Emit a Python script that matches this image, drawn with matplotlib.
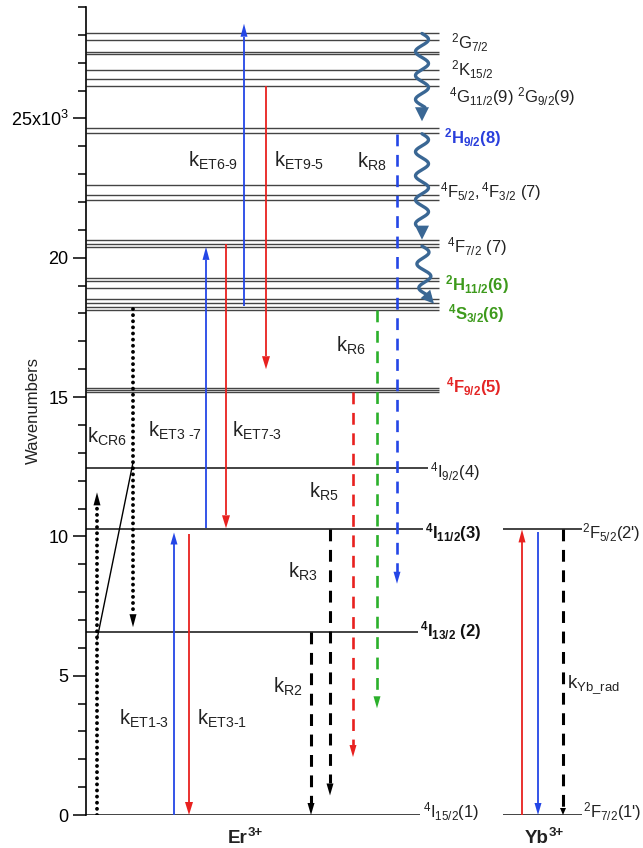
import numpy as np
import matplotlib
matplotlib.use("Agg")
import matplotlib.pyplot as plt
from matplotlib.patches import Polygon

plt.rcParams["font.family"] = ["Liberation Sans", "DejaVu Sans"]
plt.rcParams["mathtext.fontset"] = "custom"
plt.rcParams["mathtext.rm"] = "Liberation Sans"
plt.rcParams["mathtext.it"] = "Liberation Sans:italic"
plt.rcParams["mathtext.bf"] = "Liberation Sans:bold"
plt.rcParams["mathtext.sf"] = "Liberation Sans"
plt.rcParams["mathtext.default"] = "regular"
plt.rcParams["lines.scale_dashes"] = False

# --- energy levels (10^3 cm^-1) ---
er_band_levels = [28.07, 27.80, 27.38, 27.31, 26.74, 26.42, 26.16, 24.66, 24.47,
                  22.62, 22.27, 22.09, 20.63, 20.51, 20.39, 19.26, 19.17, 18.93,
                  18.52, 18.38, 18.25, 18.14, 15.33, 15.25, 15.17]
er_low_levels = [12.44, 10.25, 6.56, 0.0]
yb_levels = [10.25, 0.0]

# --- transitions: start / end energies ---
trans_names = ["CR6_up", "CR6_down", "ET1-3", "ET3-1", "ET3-7", "ET7-3", "ET6-9", "ET9-5",
               "R2", "R3", "R5", "R6", "R8", "Yb_abs", "Yb_em", "Yb_rad"]
trans_from = [0.0, 18.17, 0.0, 10.10, 10.29, 20.50, 18.28, 26.16,
              6.56, 10.25, 15.17, 18.14, 24.45, 0.0, 10.14, 10.25]
trans_to = [11.58, 6.74, 10.14, 0.0, 20.39, 10.29, 28.40, 16.0,
            0.0, 0.70, 2.08, 3.83, 8.30, 10.25, 0.0, 0.0]

# non-radiative cascade (wavy arrows)
wavy_from = [28.05, 24.45, 20.42]
wavy_to = [24.90, 20.65, 18.35]

# cross-relaxation connector
cr_link = [6.30, 12.65]

# --- labels ---
HY = "\u2010"
level_labels = [r"${}^{2}G_{7/2}$", r"${}^{2}K_{15/2}$",
                r"${}^{4}G_{11/2}(9)\ {}^{2}G_{9/2}(9)$",
                r"$\mathbf{{}^{2}H_{9/2}(8)}$", r"${}^{4}F_{5/2},{}^{4}F_{3/2}\ (7)$",
                r"${}^{4}F_{7/2}\ (7)$", r"$\mathbf{{}^{2}H_{11/2}(6)}$",
                r"$\mathbf{{}^{4}S_{3/2}(6)}$", r"$\mathbf{{}^{4}F_{9/2}(5)}$",
                r"${}^{4}I_{9/2}(4)$", r"$\mathbf{{}^{4}I_{11/2}(3)}$",
                r"${}^{2}F_{5/2}$(2')", r"$\mathbf{{}^{4}I_{13/2}\ (2)}$",
                r"${}^{4}I_{15/2}(1)$", r"${}^{2}F_{7/2}$(1')"]
level_label_y = [27.49, 26.53, 25.56, 24.12, 22.18, 20.21, 18.84, 17.80, 15.15,
                 12.13, 9.94, 9.94, 6.42, -0.10, -0.10]

rate_labels = ["$k_{ET6" + HY + "9}$", "$k_{ET9" + HY + "5}$", r"$k_{R8}$", r"$k_{R6}$",
               r"$k_{ET3\ " + HY + "7}$", "$k_{ET7" + HY + "3}$", r"$k_{CR6}$", r"$k_{R5}$",
               r"$k_{R3}$", r"$k_{R2}$", "$k_{ET1" + HY + "3}$", "$k_{ET3" + HY + "1}$",
               r"$k_{Yb\_rad}$"]
rate_label_y = [23.26, 23.26, 23.22, 16.62, 13.57, 13.57, 13.35, 11.40, 8.50, 4.38,
                3.23, 3.23, 4.56]

ion_names = ["Er", "Yb"]
ion_charge = "3+"
yticks = [0, 5, 10, 15, 20, 25]
ytick_labels = ["0", "5", "10", "15", "20", r"25x10$^{3}$"]

# --- layout (pixel x positions, styles) ---
W, H = 643, 848
X0, Y0PX, YTOPPX = 86, 815, 7
YMAX = 29.0
PXK = (Y0PX - YTOPPX) / YMAX

BLUE, RED, GREEN = "#2446e6", "#e8211f", "#2bb02b"
LBLUE, LGREEN, LRED = "#2a3fdc", "#3d9a1c", "#e42525"
WAVE = "#3a6794"
LEVEL = "#444444"

trans_x = [97, 133, 174, 189, 206, 226, 244, 266, 311, 330, 353, 377, 397, 522, 538, 563]
trans_color = ["black", "black", BLUE, RED, BLUE, RED, BLUE, RED,
               "black", "black", RED, GREEN, BLUE, RED, BLUE, "black"]
trans_style = ["dot", "dot", "solid", "solid", "solid", "solid", "solid", "solid",
               "dash", "dash", "dash", "dash", "dash", "solid", "solid", "dash"]
head_len = [13, 13, 12, 13, 13, 13, 13, 13, 12, 12, 12, 12, 12, 13, 12, 7]
head_w = [7, 7, 7, 8, 7, 8, 7, 8, 7, 7, 7, 7, 7, 7, 7, 6]

level_label_x = [451, 451, 449, 444, 440, 447, 445, 448, 446, 430, 425, 582, 420, 423, 583]
level_label_c = ["#222", "#222", "#222", LBLUE, "#222", "#222", LGREEN, LGREEN, LRED,
                 "#222", "#111", "#222", "#111", "#222", "#222"]
rate_label_x = [188, 274, 357, 336, 148, 232, 87, 309, 288, 273, 119, 197, 567]
ion_x = [228, 525]

fig = plt.figure(figsize=(W / 100, H / 100), dpi=100)
ax = fig.add_axes([X0 / W, (H - Y0PX) / H, (W - X0) / W, (Y0PX - YTOPPX) / H])
ax.set_xlim(X0, W)
ax.set_ylim(0, YMAX)
for s in ["top", "right", "bottom"]:
    ax.spines[s].set_visible(False)
ax.spines["left"].set_linewidth(1.2)
ax.set_xticks([])
ax.set_yticks(yticks)
ax.set_yticklabels(ytick_labels, fontsize=13)
ax.set_yticks(np.arange(0, 30, 1), minor=True)
ax.tick_params(axis="y", which="major", length=9.5, width=1.1, pad=3, direction="out")
ax.tick_params(axis="y", which="minor", length=5.8, width=1.1, direction="out")
fig.text(33 / W, (H - 411) / H, "Wavenumbers", rotation=90, fontsize=12,
         ha="center", va="center", color="#222")


def head(xt, yt, ux, uy, length, width, color):
    # tip (xt px, yt energy), direction (ux, uy) in pixels (uy up)
    n = np.hypot(ux, uy)
    ux, uy = ux / n, uy / n
    bx, by = xt - ux * length, yt * PXK - uy * length
    px, py = -uy, ux
    pts = [(bx + px * width / 2, by + py * width / 2),
           (bx - px * width / 2, by - py * width / 2),
           (xt, yt * PXK)]
    pts = [(a, b / PXK) for a, b in pts]
    ax.add_patch(Polygon(pts, closed=True, facecolor=color, edgecolor="none",
                         zorder=4, clip_on=False))


# levels
for e in er_band_levels:
    ax.plot([X0, 439], [e, e], color=LEVEL, lw=1.0, solid_capstyle="butt")
for e, xe in zip(er_low_levels, [428, 423, 418, 420]):
    ax.plot([X0, xe], [e, e], color="#222", lw=1.2, solid_capstyle="butt")
for e in yb_levels:
    ax.plot([503, 582], [e, e], color="#222", lw=1.2, solid_capstyle="butt")

# straight transitions
for x, y0, y1, c, st, hl, hw in zip(trans_x, trans_from, trans_to, trans_color,
                                     trans_style, head_len, head_w):
    d = 1 if y1 > y0 else -1
    ybase = y1 - d * hl / PXK
    if st == "solid":
        ax.plot([x, x], [y0, ybase], color=c, lw=1.3, solid_capstyle="butt", zorder=3)
    elif st == "dash":
        lw = 2.2 if c == "black" else 1.9
        ax.plot([x, x], [y0, ybase], color=c, lw=lw, linestyle=(0, (8.5, 6.2)),
                dash_capstyle="butt", zorder=3)
    else:
        ax.plot([x, x], [y0, ybase], color=c, lw=2.8, linestyle=(0, (0.01, 4.4)),
                dash_capstyle="round", zorder=3)
    head(x, y1, 0, d, hl, hw, c)

# cross relaxation connector line
ax.plot([trans_x[0], trans_x[1]], cr_link, color="black", lw=1.0, zorder=3)

# wavy cascade arrows
xc, amp, per = 422, 6.5, 24.0
for i, (ya, yb) in enumerate(zip(wavy_from, wavy_to)):
    last = i == len(wavy_from) - 1
    hl = 14
    if last:
        tip = (434, yb)
        yend = yb + 7 / PXK
        xend_shift = 4
    else:
        tip = (xc, yb)
        yend = yb + hl / PXK
        xend_shift = 0
    ys = np.linspace(ya, yend, 300)
    dist = (ya - ys) * PXK
    frac = (ya - ys) / (ya - yend)
    xs = xc + amp * np.sin(2 * np.pi * dist / per) + xend_shift * frac
    ax.plot(xs, ys, color=WAVE, lw=2.4, solid_capstyle="round", zorder=5)
    if last:
        head(tip[0], tip[1], tip[0] - xs[-1] + 6, (tip[1] - ys[-1]) * PXK - 4, 13, 13, WAVE)
    else:
        head(tip[0], tip[1], 0, -1, hl, 14, WAVE)

# text
for s, x, y, c in zip(level_labels, level_label_x, level_label_y, level_label_c):
    ax.text(x, y, s, fontsize=12, color=c, ha="left", va="baseline", clip_on=False)
for s, x, y in zip(rate_labels, rate_label_x, rate_label_y):
    ax.text(x, y, s, fontsize=14.5 if "Yb" not in s else 13.5, color="#222",
            ha="left", va="baseline")
for name, x in zip(ion_names, ion_x):
    t = ax.text(x, -1.0, name, fontsize=13.5, fontweight="bold", color="#222",
                ha="left", va="baseline", clip_on=False)
    ax.annotate(ion_charge, xy=(1, 0), xycoords=t, xytext=(0.0, 8.0),
                textcoords="offset points", fontsize=9.5, fontweight="bold",
                color="#222", ha="left", va="baseline")

fig.savefig("out.png", dpi=100)
